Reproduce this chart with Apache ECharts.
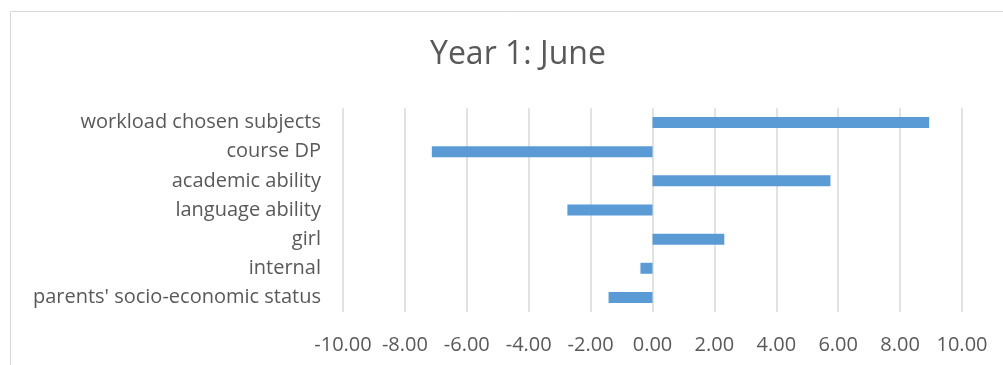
<!DOCTYPE html>
<html>
<head>
<meta charset="utf-8">
<script src="https://cdn.jsdelivr.net/npm/echarts@6/dist/echarts.min.js"></script>
<style>
  html, body { margin: 0; padding: 0; background: #fff; }
  #chart { width: 1003px; height: 365px; }
</style>
</head>
<body>
<div id="chart"></div>
<script>
// Factors, listed top to bottom
const categories = [
  'workload chosen subjects',
  'course DP',
  'academic ability',
  'language ability',
  'girl',
  'internal',
  "parents' socio-economic status"
];
const values = [8.94, -7.13, 5.75, -2.75, 2.32, -0.39, -1.42];
const chartTitle = 'Year 1: June';

const textColor = '#595959';
const fontFamily = '"Open Sans", "Noto Sans", sans-serif';

const chart = echarts.init(document.getElementById('chart'), null, { renderer: 'canvas' });
chart.setOption({
  backgroundColor: '#ffffff',
  animation: false,
  title: {
    text: chartTitle,
    left: 425,
    top: 34,
    textStyle: { color: textColor, fontSize: 32, fontWeight: 'normal', fontFamily: fontFamily }
  },
  graphic: [{
    type: 'rect',
    shape: { x: 10.5, y: 11.5, width: 1010, height: 400 },
    style: { fill: 'none', stroke: '#d9d9d9', lineWidth: 1 },
    silent: true
  }],
  grid: { left: 343, right: 41, top: 108, bottom: 53, containLabel: false },
  xAxis: {
    type: 'value',
    min: -10,
    max: 10,
    interval: 2,
    axisLine: { show: false },
    axisTick: { show: false },
    splitLine: { show: true, lineStyle: { color: '#d9d9d9', width: 1.5 } },
    axisLabel: {
      color: textColor,
      fontSize: 20,
      fontFamily: fontFamily,
      margin: 23,
      formatter: v => v.toFixed(2)
    }
  },
  yAxis: {
    type: 'category',
    data: categories,
    inverse: true,
    axisLine: { show: false, onZero: false },
    axisTick: { show: false },
    splitLine: { show: false },
    axisLabel: {
      color: textColor,
      fontSize: 20,
      fontFamily: fontFamily,
      margin: 22
    }
  },
  series: [{
    type: 'bar',
    data: values,
    barWidth: 11,
    itemStyle: { color: '#5b9bd5' }
  }]
});
</script>
</body>
</html>
